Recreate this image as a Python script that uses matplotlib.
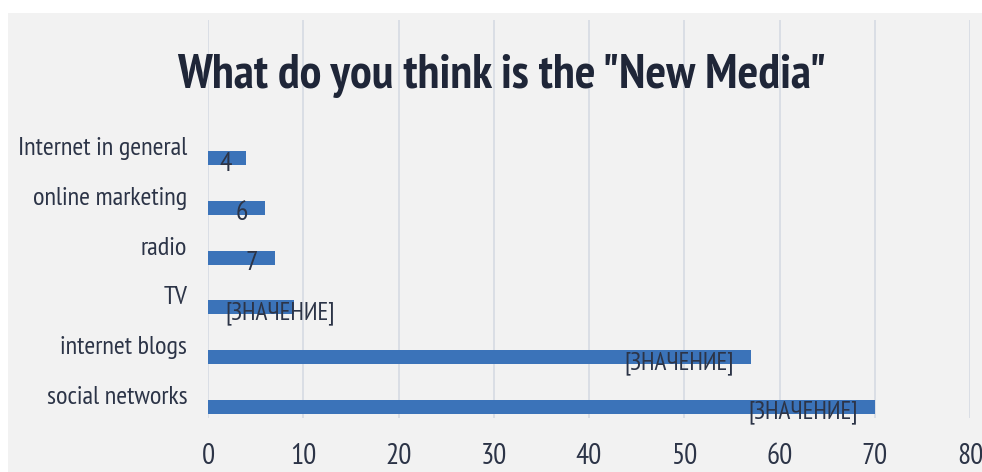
import matplotlib
matplotlib.use('Agg')
import matplotlib.pyplot as plt
import matplotlib.transforms as mtransforms
from matplotlib.patches import Rectangle

plt.rcParams['font.family'] = ['PT Sans Narrow', 'Archivo Narrow', 'DejaVu Sans']

# survey answers, bottom to top
categories = ['social networks', 'internet blogs', 'TV', 'radio',
              'online marketing', 'Internet in general']
values = [70, 57, 9, 7, 6, 4]
value_labels = ['[ЗНАЧЕНИЕ]', '[ЗНАЧЕНИЕ]', '[ЗНАЧЕНИЕ]', '7', '6', '4']
x_ticks = [0, 10, 20, 30, 40, 50, 60, 70, 80]

TEXT = '#2c3447'
BAR = '#3b73b9'
GRID = '#d6dbe3'
PANEL = '#f2f2f2'

fig = plt.figure(figsize=(9.82, 4.72), dpi=100)
fig.patch.set_facecolor('white')
fig.patches.append(Rectangle((8 / 982, 0), 1, 1 - 13 / 472,
                             transform=fig.transFigure,
                             facecolor=PANEL, edgecolor='none', zorder=-10))

ax = fig.add_axes([208 / 982, 1 - 418 / 472, 762 / 982, 398 / 472])
ax.set_facecolor('none')

ypos = list(range(len(categories)))
ax.barh(ypos, values, height=0.28, color=BAR, zorder=3)

ax.set_xlim(0, 80)
ax.set_ylim(-0.22, 7.77)
ax.set_xticks(x_ticks)
ax.set_xticklabels([str(t) for t in x_ticks])
ax.xaxis.grid(True, color=GRID, linewidth=1.2, zorder=0)
ax.set_axisbelow(True)
for s in ax.spines.values():
    s.set_visible(False)
ax.tick_params(axis='x', length=0, pad=18, labelsize=21, labelcolor=TEXT)
ax.tick_params(axis='y', length=0, pad=15, labelsize=19, labelcolor=TEXT)

ax.set_yticks(ypos)
ax.set_yticklabels(categories)
# category names sit a little above their bars
lift = mtransforms.ScaledTranslation(0, 12 / 100, fig.dpi_scale_trans)
for lab in ax.get_yticklabels():
    lab.set_transform(lab.get_transform() + lift)

# value labels at the inner end of each bar
renderer = fig.canvas.get_renderer()
x0_px = ax.transData.transform((0, 0))[0]
for y, v, txt in zip(ypos, values, value_labels):
    size = 20 if txt.isdigit() else 18
    t = ax.annotate(txt, xy=(v, y), xytext=(-12, -4), textcoords='offset points',
                    ha='right', va='center', fontsize=size, color=TEXT, zorder=4)
    bb = t.get_window_extent(renderer)
    if bb.x0 < x0_px + 12:
        t.remove()
        if txt.isdigit():
            off = (12 + bb.width / 2) * 72 / 100
            ha = 'center'
        else:
            off = 17 * 72 / 100
            ha = 'left'
        ax.annotate(txt, xy=(0, y), xytext=(off, -4), textcoords='offset points',
                    ha=ha, va='center', fontsize=size, color=TEXT, zorder=4)

fig.text(502 / 982, 1 - 76 / 472, 'What do you think is the "New Media"',
         ha='center', va='center', fontsize=35, fontweight='bold', color='#1f2638')

fig.savefig('out.png', dpi=100)
